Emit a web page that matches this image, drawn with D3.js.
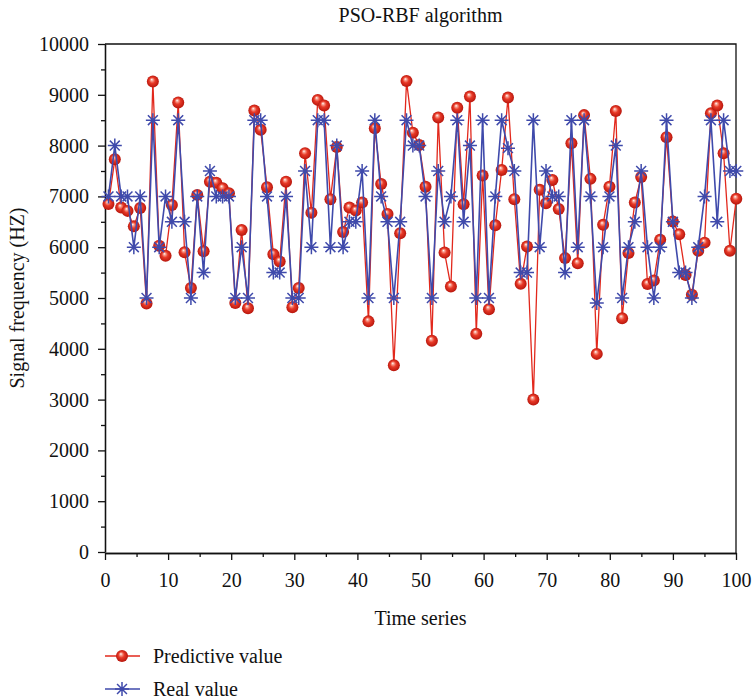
<!DOCTYPE html>
<html>
<head>
<meta charset="utf-8">
<script src="https://cdn.jsdelivr.net/npm/d3@7"></script>
<style>
  body { margin: 0; background: #fff; }
  svg { display: block; font-family: "Liberation Serif", "DejaVu Serif", serif; }
</style>
</head>
<body>
<svg width="752" height="699"></svg>
<script>
// values
var predictive = [
    6850, 7730, 6780, 6715, 6410, 6770, 4890, 9260, 6030, 5830,
    6830, 8850, 5900, 5195, 7030, 5920, 7290, 7270, 7160, 7060,
    4900, 6340, 4800, 8690, 8310, 7180, 5860, 5720, 7290, 4820,
    5195, 7850, 6680, 8900, 8790, 6945, 7970, 6300, 6780, 6720,
    6880, 4540, 8340, 7245, 6655, 3675, 6275, 9270, 8255, 8010,
    7190, 4160, 8555, 5895, 5225, 8745, 6845, 8965, 4295, 7410,
    4780, 6430, 7520, 8945, 6945, 5280, 6015, 3000, 7130, 6865,
    7325, 6750, 5785, 8045, 5685, 8600, 7345, 3900, 6440, 7190,
    8680, 4600, 5885, 6880, 7380, 5275, 5345, 6145, 8165, 6505,
    6255, 5455, 5065, 5930, 6090, 8635, 8790, 7850, 5930, 6955
];
var real = [
    7000, 8000, 7000, 7000, 6000, 7000, 5000, 8500, 6000, 7000,
    6500, 8500, 6500, 5000, 7000, 5500, 7500, 7000, 7000, 7000,
    5000, 6000, 5000, 8500, 8500, 7000, 5500, 5500, 7000, 5000,
    5000, 7500, 6000, 8500, 8500, 6000, 8000, 6000, 6500, 6500,
    7500, 5000, 8500, 7000, 6500, 5000, 6500, 8500, 8000, 8000,
    7000, 5000, 7500, 6500, 7000, 8500, 6500, 8000, 5000, 8500,
    5000, 7000, 8500, 7950, 7500, 5500, 5500, 8500, 6000, 7500,
    7000, 7000, 5500, 8500, 6000, 8500, 7000, 4900, 6000, 7000,
    8000, 5000, 6000, 6500, 7500, 6000, 5000, 6000, 8500, 6500,
    5500, 5500, 5000, 6000, 7000, 8500, 6500, 8500, 7500, 7500
];
// samples are evenly spaced along the time axis
var time = d3.range(predictive.length).map(function(i) { return 0.55 + i * 1.005; });

var xTicks = d3.range(0, 101, 10),
    xMinor = d3.range(5, 100, 10),
    yTicks = d3.range(0, 10001, 1000),
    yMinor = d3.range(500, 10000, 1000);

var series = [
    { name: "Predictive value", values: predictive, color: "#e2281c", marker: "ball" },
    { name: "Real value", values: real, color: "#3f4aab", marker: "star" }
];

/*=====================================================================================================
                                         Setup
======================================================================================================*/
var svg = d3.select("svg"),
    plotLeft = 105, plotRight = 736, plotTop = 44, plotBottom = 552;

var x = d3.scaleLinear().domain([0, 100]).range([plotLeft, plotRight]);
var y = d3.scaleLinear().domain([0, 10000]).range([plotBottom, plotTop]);

var defs = svg.append("defs");
var grad = defs.append("radialGradient")
    .attr("id", "ball")
    .attr("cx", "50%").attr("cy", "50%").attr("r", "55%")
    .attr("fx", "40%").attr("fy", "32%");
grad.append("stop").attr("offset", "0%").attr("stop-color", "#ffffff");
grad.append("stop").attr("offset", "18%").attr("stop-color", "#f8a090");
grad.append("stop").attr("offset", "45%").attr("stop-color", "#e83a28");
grad.append("stop").attr("offset", "100%").attr("stop-color", "#b01008");

/*=====================================================================================================
                                         Axes
======================================================================================================*/
var fmt = d3.format("d");

svg.append("g").attr("transform", "translate(0," + (plotBottom + 1) + ")")
    .call(d3.axisBottom(x).tickValues(xTicks).tickFormat(fmt).tickSize(7).tickPadding(13).tickSizeOuter(0));
svg.append("g").attr("transform", "translate(0," + (plotBottom + 1) + ")")
    .call(d3.axisBottom(x).tickValues(xMinor).tickSize(4).tickFormat("").tickSizeOuter(0));

svg.append("g").attr("transform", "translate(" + plotLeft + ",0)")
    .call(d3.axisLeft(y).tickValues(yTicks).tickFormat(fmt).tickSize(7).tickPadding(9).tickSizeOuter(0));
svg.append("g").attr("transform", "translate(" + plotLeft + ",0)")
    .call(d3.axisLeft(y).tickValues(yMinor).tickSize(4).tickFormat("").tickSizeOuter(0));

svg.selectAll(".tick text").attr("font-size", 20).attr("font-family", "Liberation Serif").attr("fill", "#111");
svg.selectAll(".domain, .tick line").attr("stroke", "#111").attr("stroke-width", 1.3);

// frame top and right
svg.append("path")
    .attr("d", "M" + plotLeft + "," + plotTop + "H" + plotRight + "V" + (plotBottom + 1))
    .attr("fill", "none").attr("stroke", "#111").attr("stroke-width", 1.3);

/*=====================================================================================================
                                         Lines and markers
======================================================================================================*/
var line = d3.line()
    .x(function(d, i) { return x(time[i]); })
    .y(function(d) { return y(d); });

function starPath(r) {
    var d = r * Math.SQRT1_2;
    return "M" + (-r) + ",0H" + r + "M0," + (-r) + "V" + r +
        "M" + (-d) + "," + (-d) + "L" + d + "," + d +
        "M" + (-d) + "," + d + "L" + d + "," + (-d);
}

series.forEach(function(s) {
    svg.append("path")
        .datum(s.values)
        .attr("d", line)
        .attr("fill", "none")
        .attr("stroke", s.color)
        .attr("stroke-width", s.marker == "ball" ? 1.3 : 1.6);

    var g = svg.append("g");
    if (s.marker == "ball") {
        g.selectAll("circle").data(s.values).enter().append("circle")
            .attr("cx", function(d, i) { return x(time[i]); })
            .attr("cy", function(d) { return y(d); })
            .attr("r", 6)
            .attr("fill", "url(#ball)");
    } else {
        g.selectAll("path").data(s.values).enter().append("path")
            .attr("transform", function(d, i) { return "translate(" + x(time[i]) + "," + y(d) + ")"; })
            .attr("d", starPath(7))
            .attr("stroke", s.color)
            .attr("stroke-width", 1.5);
    }
});

/*=====================================================================================================
                                         Texts and legend
======================================================================================================*/
svg.append("text")
    .attr("x", (plotLeft + plotRight) / 2).attr("y", 22)
    .attr("text-anchor", "middle").attr("font-size", 20).attr("fill", "#111")
    .text("PSO-RBF algorithm");

svg.append("text")
    .attr("x", (plotLeft + plotRight) / 2).attr("y", 625)
    .attr("text-anchor", "middle").attr("font-size", 20).attr("fill", "#111")
    .text("Time series");

svg.append("text")
    .attr("transform", "translate(24," + ((plotTop + plotBottom) / 2) + ") rotate(-90)")
    .attr("text-anchor", "middle").attr("font-size", 20).attr("fill", "#111")
    .text("Signal frequency (HZ)");

var legend = svg.append("g").selectAll("g").data(series).enter().append("g")
    .attr("transform", function(d, i) { return "translate(105," + (656 + i * 33) + ")"; });

legend.append("line")
    .attr("x1", 0).attr("x2", 35)
    .attr("stroke", function(d) { return d.color; })
    .attr("stroke-width", 1.5);

legend.each(function(d) {
    var g = d3.select(this);
    if (d.marker == "ball") {
        g.append("circle").attr("cx", 17).attr("r", 6).attr("fill", "url(#ball)");
    } else {
        g.append("path").attr("transform", "translate(17,0)").attr("d", starPath(7))
            .attr("stroke", d.color).attr("stroke-width", 1.5);
    }
});

legend.append("text")
    .attr("x", 48).attr("y", 7)
    .attr("font-size", 20).attr("fill", "#111")
    .text(function(d) { return d.name; });
</script>
</body>
</html>
